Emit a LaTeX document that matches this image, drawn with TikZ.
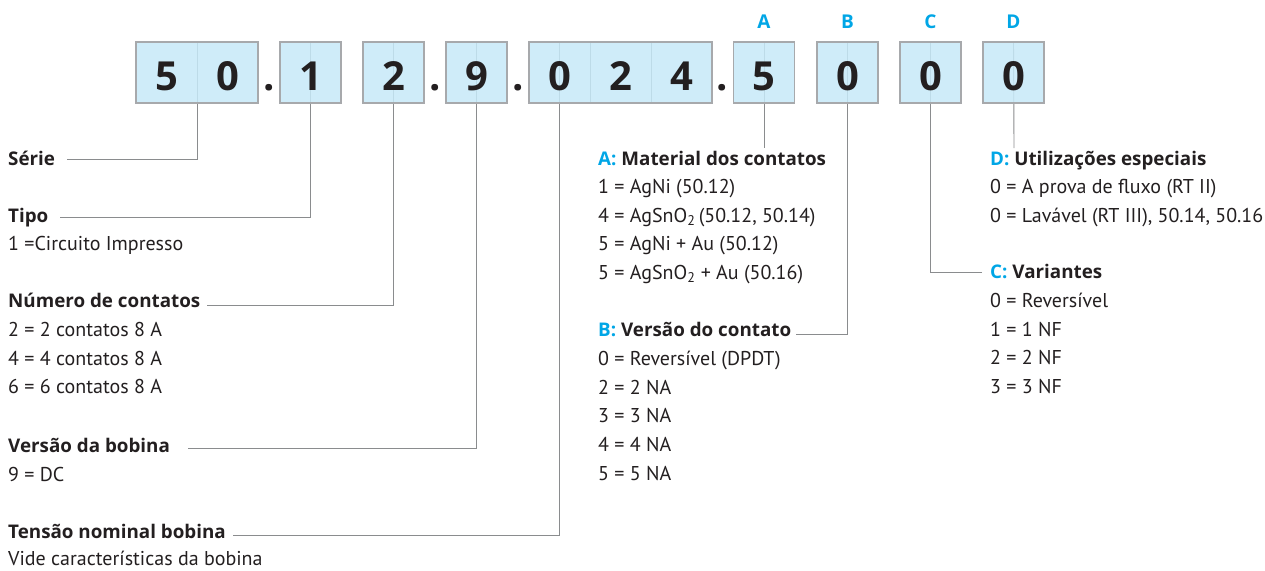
\documentclass[tikz,border=0pt]{standalone}
\usepackage{fontspec}
\setmainfont{PT Sans}
\newfontfamily\hfont{Open Sans}
\usetikzlibrary{backgrounds}
\definecolor{boxblue}{HTML}{C7E9F8}
\definecolor{boxedge}{HTML}{A7A9AC}
\definecolor{linegray}{HTML}{8A8C8E}
\definecolor{labelblue}{HTML}{00A6E6}
\definecolor{ink}{HTML}{231F20}
\begin{document}
\begin{tikzpicture}[x=1pt,y=-1pt,
 box/.style={draw=boxedge, line width=1.2pt, fill=boxblue, fill opacity=0.85, inner sep=0, outer sep=0, minimum height=61pt},
 dig/.style={font=\hfont\fontsize{40}{40}\selectfont\bfseries, text=ink, anchor=base, inner sep=0},
 lett/.style={font=\hfont\fontsize{19}{20}\selectfont\bfseries, text=labelblue, anchor=base, inner sep=0},
 head/.style={font=\hfont\fontsize{18.8}{20}\selectfont\bfseries, text=ink, anchor=base west, inner sep=0},
 itm/.style={font=\fontsize{20}{20}\selectfont, text=ink, anchor=base west, inner sep=0},
 conn/.style={draw=linegray, line width=0.9pt},
 cell/.style={draw=linegray, line width=0.6pt}]
\useasboundingbox (0,0) rectangle (1265,570);
\newcommand{\bl}[1]{\textcolor{labelblue}{#1}}

% boxes
\node[box, minimum width=122pt] (b50) at (197,72.5) {};
\node[box, minimum width=61pt] (b1) at (310.5,72.5) {};
\node[box, minimum width=61pt] (b2) at (393.5,72.5) {};
\node[box, minimum width=61pt] (b9) at (476.5,72.5) {};
\node[box, minimum width=183pt] (b024) at (620.5,72.5) {};
\node[box, minimum width=61pt] (bA) at (764,72.5) {};
\node[box, minimum width=61pt] (bB) at (847.5,72.5) {};
\node[box, minimum width=61pt] (bC) at (930.5,72.5) {};
\node[box, minimum width=61pt] (bD) at (1013.5,72.5) {};

% digits
\node[dig] (d5) at (166.5,90) {5};
\node[dig] (d0) at (227.5,90) {0};
\node[dig] (p1) at (269,90) {.};
\node[dig] (d1) at (310.5,90) {1};
\node[dig] (d2) at (393.5,90) {2};
\node[dig] (p2) at (435,90) {.};
\node[dig] (d9) at (476.5,90) {9};
\node[dig] (p3) at (518,90) {.};
\node[dig] (e0) at (559.5,90) {0};
\node[dig] (e2) at (620.5,90) {2};
\node[dig] (e4) at (681.5,90) {4};
\node[dig] (p4) at (722.5,90) {.};
\node[dig] (dA) at (764,90) {5};
\node[dig] (dB) at (847.5,90) {0};
\node[dig] (dC) at (930.5,90) {0};
\node[dig] (dD) at (1013.5,90) {0};

% letters
\node[lett] (lA) at (764,28) {A};
\node[lett] (lB) at (847.5,28) {B};
\node[lett] (lC) at (930.5,28) {C};
\node[lett] (lD) at (1013.5,28) {D};

% left column
\node[head] (serie) at (8,165) {Série};
\node[head] (tipo) at (8,222) {Tipo};
\node[itm] (tipo1) at (8,250.5) {1 =Circuito Impresso};
\node[head] (num) at (8,307.5) {Número de contatos};
\node[itm] (num1) at (8,336.5) {2 = 2 contatos 8 A};
\node[itm] (num2) at (8,365) {4 = 4 contatos 8 A};
\node[itm] (num3) at (8,393.5) {6 = 6 contatos 8 A};
\node[head] (vers) at (8,452.5) {Versão da bobina};
\node[itm] (vers1) at (8,481.5) {9 = DC};
\node[head] (tens) at (8,538.5) {Tensão nominal bobina};
\node[itm] (tens1) at (8,565) {Vide características da bobina};

% A column
\node[head] (matA) at (598,165) {\bl{A:} Material dos contatos};
\node[itm] (matA1) at (598,193.6) {1 = AgNi (50.12)};
\node[itm] (matA2) at (598,222.2) {4 = AgSnO\textsubscript{2}\,(50.12, 50.14)};
\node[itm] (matA3) at (598,250.8) {5 = AgNi + Au (50.12)};
\node[itm] (matA4) at (598,279.4) {5 = AgSnO\textsubscript{2} + Au (50.16)};
\node[head] (verB) at (598,336.6) {\bl{B:} Versão do contato};
\node[itm] (verB1) at (598,365.3) {0 = Reversível (DPDT)};
\node[itm] (verB2) at (598,394) {2 = 2 NA};
\node[itm] (verB3) at (598,422.7) {3 = 3 NA};
\node[itm] (verB4) at (598,451.4) {4 = 4 NA};
\node[itm] (verB5) at (598,480.1) {5 = 5 NA};

% D / C column
\node[head] (utD) at (990,165) {\bl{D:} Utilizações especiais};
\node[itm] (utD1) at (990,193.6) {0 = A prova de fluxo (RT II)};
\node[itm] (utD2) at (990,222.2) {0 = Lavável (RT III), 50.14, 50.16};
\node[head] (varC) at (990,278.5) {\bl{C:} Variantes};
\node[itm] (varC1) at (990,307.5) {0 = Reversível};
\node[itm] (varC2) at (990,336.2) {1 = 1 NF};
\node[itm] (varC3) at (990,364.9) {2 = 2 NF};
\node[itm] (varC4) at (990,393.6) {3 = 3 NF};

% connector ends
\coordinate (cSerie) at (67,159);
\coordinate (cTipo) at (60,217);
\coordinate (cNum) at (207,305);
\coordinate (cVers) at (188,448);
\coordinate (cTens) at (233,535);
\coordinate (cB) at (796,334);
\coordinate (cC) at (982,272);
\coordinate (cA) at (764,148);
\coordinate (cD) at (1014,148);

\begin{scope}[on background layer]
\draw[conn] (cSerie) -| (b50.north);
\draw[conn] (cTipo) -| (b1.north);
\draw[conn] (cNum) -| (b2.north);
\draw[conn] (cVers) -| (b9.north);
\draw[conn] (cTens) -| ([xshift=-61pt]b024.north);
\draw[conn] (cB) -| (bB.north);
\draw[conn] (cC) -| (bC.north);
\draw[conn] (bA.north) -- (cA);
\draw[conn] (bD.north) -- (cD);
\draw[cell] ([xshift=-30.5pt]b024.north) -- ([xshift=-30.5pt]b024.south);
\draw[cell] ([xshift=30.5pt]b024.north) -- ([xshift=30.5pt]b024.south);
\end{scope}
\end{tikzpicture}
\end{document}
